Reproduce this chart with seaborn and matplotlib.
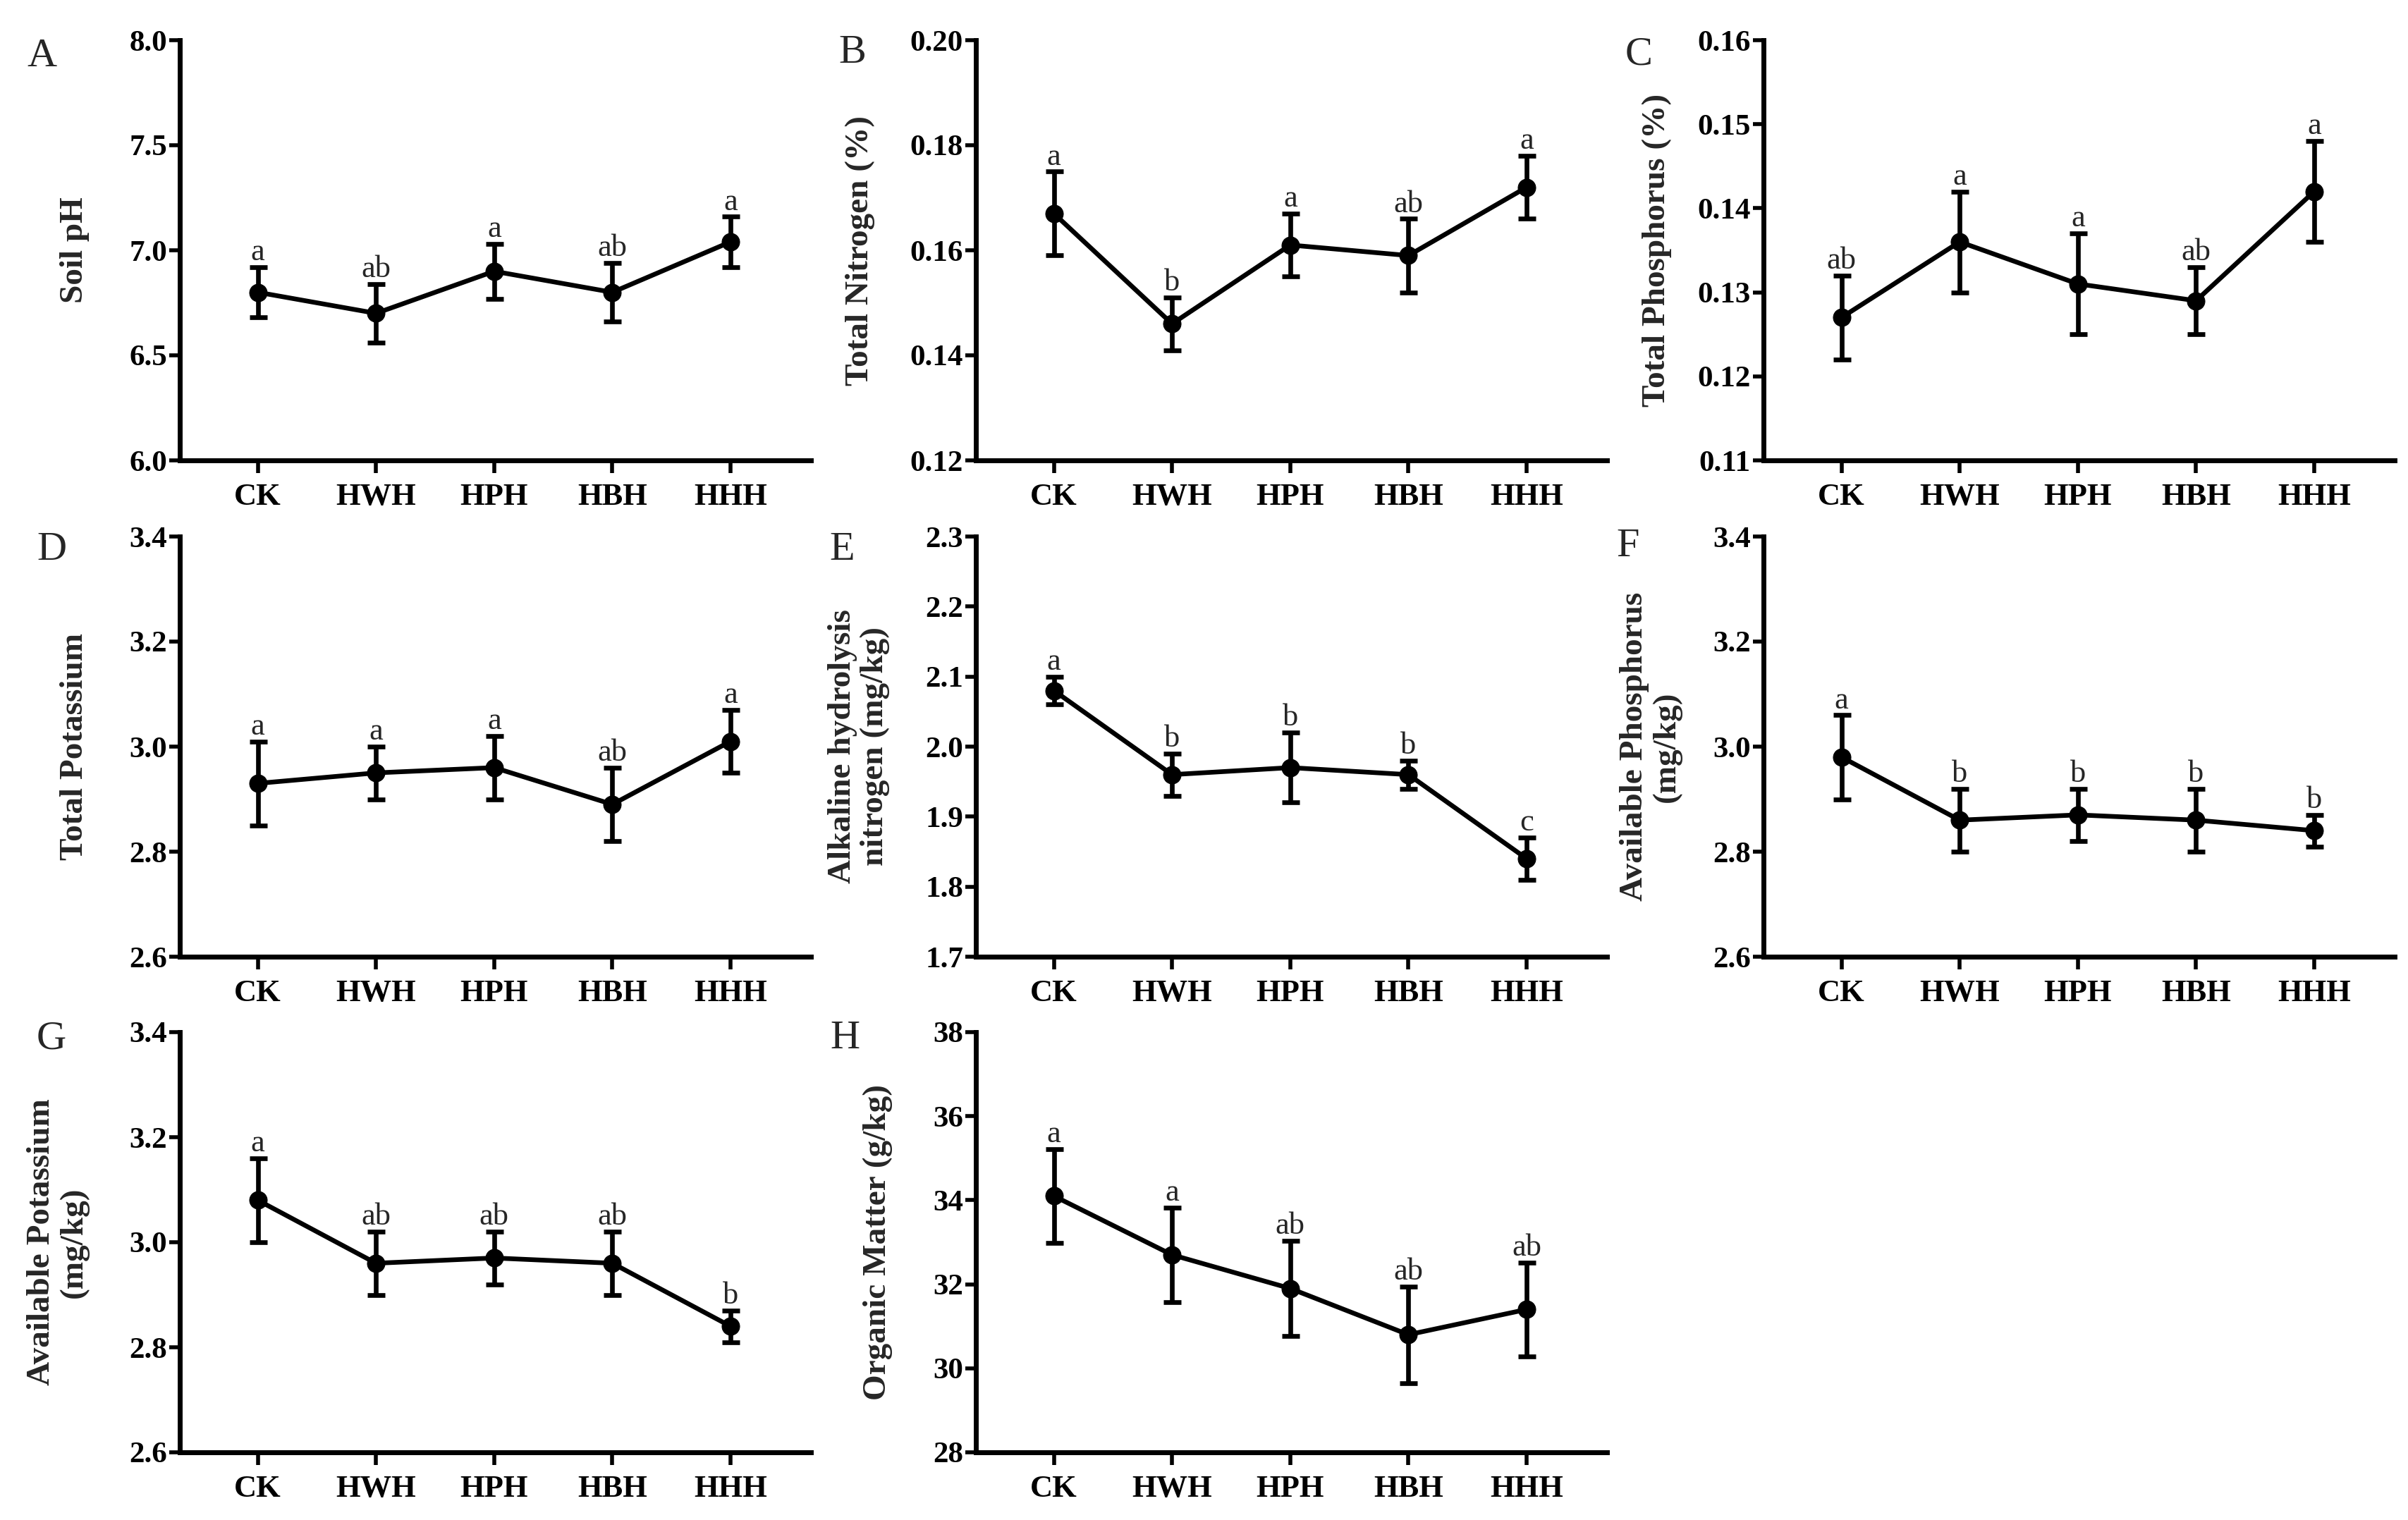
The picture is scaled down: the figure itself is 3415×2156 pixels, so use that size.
import numpy as np
import pandas as pd
import matplotlib
matplotlib.use("Agg")
import matplotlib.pyplot as plt
import seaborn as sns

# ---------------- data ----------------
treatments = ["CK", "HWH", "HPH", "HBH", "HHH"]

ph_mean = [6.80, 6.70, 6.90, 6.80, 7.04]
ph_err = [0.12, 0.14, 0.13, 0.14, 0.12]
ph_sig = ["a", "ab", "a", "ab", "a"]

tn_mean = [0.167, 0.146, 0.161, 0.159, 0.172]
tn_err = [0.008, 0.005, 0.006, 0.007, 0.006]
tn_sig = ["a", "b", "a", "ab", "a"]

tp_mean = [0.127, 0.136, 0.131, 0.129, 0.142]
tp_err = [0.005, 0.006, 0.006, 0.004, 0.006]
tp_sig = ["ab", "a", "a", "ab", "a"]

tk_mean = [2.93, 2.95, 2.96, 2.89, 3.01]
tk_err = [0.08, 0.05, 0.06, 0.07, 0.06]
tk_sig = ["a", "a", "a", "ab", "a"]

an_mean = [2.08, 1.96, 1.97, 1.96, 1.84]
an_err = [0.02, 0.03, 0.05, 0.02, 0.03]
an_sig = ["a", "b", "b", "b", "c"]

ap_mean = [2.98, 2.86, 2.87, 2.86, 2.84]
ap_err = [0.08, 0.06, 0.05, 0.06, 0.03]
ap_sig = ["a", "b", "b", "b", "b"]

ak_mean = [3.08, 2.96, 2.97, 2.96, 2.84]
ak_err = [0.08, 0.06, 0.05, 0.06, 0.03]
ak_sig = ["a", "ab", "ab", "ab", "b"]

om_mean = [34.1, 32.7, 31.9, 30.8, 31.4]
om_err = [1.12, 1.13, 1.13, 1.15, 1.12]
om_sig = ["a", "a", "ab", "ab", "ab"]

panel_letters = ["A", "B", "C", "D", "E", "F", "G", "H"]
ylabels = ["Soil pH", "Total Nitrogen (%)", "Total Phosphorus (%)",
           "Total Potassium", "Alkaline hydrolysis\nnitrogen (mg/kg)",
           "Available Phosphorus\n(mg/kg)", "Available Potassium\n(mg/kg)",
           "Organic Matter (g/kg)"]
y_ticks = [
    [6.0, 6.5, 7.0, 7.5, 8.0],
    [0.12, 0.14, 0.16, 0.18, 0.20],
    [0.11, 0.12, 0.13, 0.14, 0.15, 0.16],
    [2.6, 2.8, 3.0, 3.2, 3.4],
    [1.7, 1.8, 1.9, 2.0, 2.1, 2.2, 2.3],
    [2.6, 2.8, 3.0, 3.2, 3.4],
    [2.6, 2.8, 3.0, 3.2, 3.4],
    [28, 30, 32, 34, 36, 38],
]
y_fmt = ["%.1f", "%.2f", "%.2f", "%.1f", "%.1f", "%.1f", "%.1f", "%d"]

means = [ph_mean, tn_mean, tp_mean, tk_mean, an_mean, ap_mean, ak_mean, om_mean]
errs = [ph_err, tn_err, tp_err, tk_err, an_err, ap_err, ak_err, om_err]
sigs = [ph_sig, tn_sig, tp_sig, tk_sig, an_sig, ap_sig, ak_sig, om_sig]

# ---------------- style ----------------
sns.set_theme(style="ticks")
plt.rcParams["font.family"] = ["Liberation Serif", "DejaVu Serif"]

FW, FH = 3415, 2156
DPI = 100
fig = plt.figure(figsize=(FW / DPI, FH / DPI), dpi=DPI)

col_left = [255, 1384, 2501]
row_top = [57, 761, 1464]
AX_W, AX_H = 895, 596

letter_pos = [(59, 80), (1209, 75), (2324, 78),
              (73, 780), (1194, 780), (2309, 775),
              (73, 1473), (1198, 1473)]
ylabel_x = [106, 1220, 2350, 106, 1218, 2341, 82, 1245]

LW = 4.8
for i in range(8):
    r, c = divmod(i, 3)
    L, T = col_left[c], row_top[r]
    ax = fig.add_axes([L / FW, 1 - (T + AX_H) / FH, AX_W / FW, AX_H / FH])
    df = pd.DataFrame({"Treatment": treatments, "Value": means[i]})
    sns.lineplot(data=df, x="Treatment", y="Value", ax=ax, color="black",
                 linewidth=LW, marker="o", markersize=18,
                 markeredgecolor="black", sort=False, zorder=3)
    xs = np.arange(len(treatments))
    ax.errorbar(xs, means[i], yerr=errs[i], fmt="none", ecolor="black",
                elinewidth=LW, capsize=9, capthick=LW, zorder=2)
    top = np.array(means[i]) + np.array(errs[i])
    for xi, yi, s in zip(xs, top, sigs[i]):
        ax.annotate(s, (xi, yi), xytext=(0, 7), textcoords="offset points",
                    ha="center", va="baseline", fontsize=32,
                    family=["Liberation Serif"])
    yt = y_ticks[i]
    ax.set_ylim(yt[0], yt[-1])
    ax.set_yticks(yt)
    ax.set_yticklabels([y_fmt[i] % v for v in yt])
    ax.set_xlim(-0.66, 4.68)
    ax.set_xticks(xs)
    ax.set_xticklabels(treatments)
    ax.set_xlabel("")
    ax.set_ylabel("")
    for side in ["top", "right"]:
        ax.spines[side].set_visible(False)
    for side in ["left", "bottom"]:
        ax.spines[side].set_linewidth(5)
        ax.spines[side].set_color("black")
    ax.tick_params(axis="y", length=11, width=4, pad=2, labelsize=31,
                   color="black", labelcolor="black")
    ax.tick_params(axis="x", length=13, width=4, pad=10, labelsize=32,
                   color="black", labelcolor="black")
    for lab in ax.get_xticklabels() + ax.get_yticklabels():
        lab.set_fontweight("bold")
    fig.text(ylabel_x[i] / FW, 1 - (T + AX_H / 2) / FH, ylabels[i],
             rotation=90, ha="center", va="center", fontsize=34,
             fontweight="bold", linespacing=1.1)
    lx, ly = letter_pos[i]
    fig.text(lx / FW, 1 - ly / FH, panel_letters[i], ha="center",
             va="center", fontsize=42)

fig.savefig("out.png", dpi=DPI, facecolor="white")
